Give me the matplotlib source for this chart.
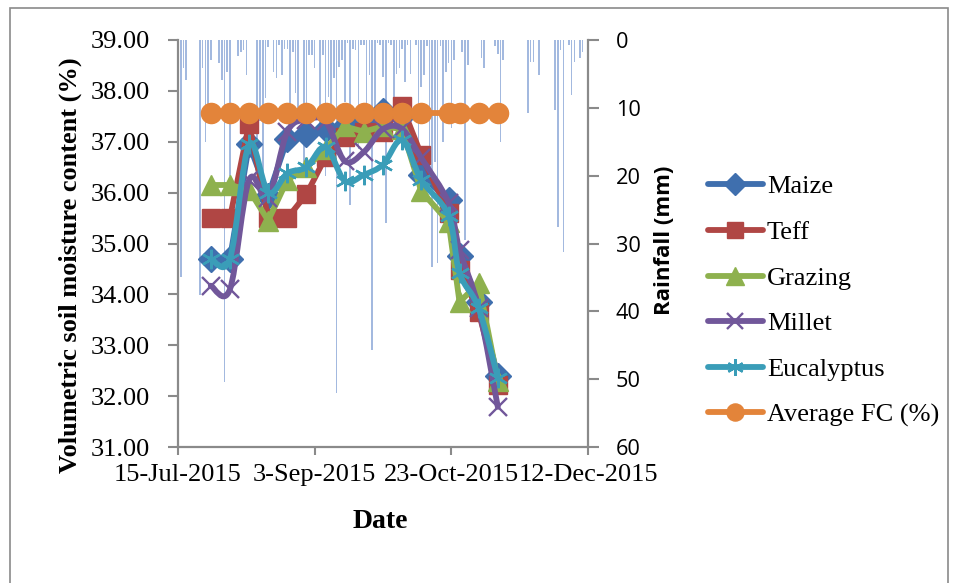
import datetime as dt
import numpy as np
import matplotlib
matplotlib.use("Agg")
import matplotlib.pyplot as plt
from matplotlib.path import Path
from matplotlib.patches import PathPatch, Rectangle
from matplotlib.lines import Line2D
from matplotlib.ticker import FixedLocator, FuncFormatter

# ---- soil moisture sampling dates and readings (%) ----
sample_dates = ["2015-07-27", "2015-08-03", "2015-08-10", "2015-08-17",
                "2015-08-24", "2015-08-31", "2015-09-07", "2015-09-14",
                "2015-09-21", "2015-09-28", "2015-10-05", "2015-10-12",
                "2015-10-22", "2015-10-26", "2015-11-02", "2015-11-09"]
maize = [34.70, 34.70, 36.95, 35.94, 37.05, 37.15, 37.25, 37.30,
         37.40, 37.60, 37.50, 36.35, 35.85, 34.75, 33.85, 32.40]
teff = [35.50, 35.50, 37.35, 35.50, 35.50, 35.97, 36.70, 37.10,
        37.20, 37.20, 37.70, 36.74, 35.60, 34.48, 33.65, 32.22]
grazing = [36.15, 36.15, 36.05, 35.45, 36.25, 36.50, 36.85, 37.30,
           37.20, 37.30, 37.25, 36.03, 35.42, 33.85, 34.22, 32.30]
millet = [34.17, 34.10, 36.25, 35.90, 37.20, 37.43, 37.40, 36.62,
          36.80, 37.25, 37.25, 36.68, 35.80, 34.87, 33.73, 31.79]
eucalyptus = [34.70, 34.70, 36.95, 36.00, 36.38, 36.50, 36.90, 36.23,
              36.35, 36.55, 37.03, 36.25, 35.55, 34.42, 33.73, 32.36]
average_fc = [37.56] * 16

# ---- daily rainfall (mm), days counted from 15-Jul-2015 ----
rain_day = [1, 2, 3, 8, 9, 10, 11, 12, 15, 16, 17, 18, 19, 22, 23, 24, 25,
            29, 30, 31, 32, 33, 35, 36, 37, 38, 39, 40, 41, 42, 43, 44, 46,
            47, 48, 49, 50, 52, 53, 54, 55, 56, 57, 58, 59, 60, 61, 62, 63,
            64, 65, 66, 67, 68, 69, 70, 71, 72, 73, 74, 75, 76, 77, 78, 79,
            80, 81, 82, 83, 84, 85, 87, 88, 89, 90, 91, 92, 93, 94, 95, 96,
            97, 98, 99, 100, 101, 104, 105, 106, 111, 112, 116, 117, 118,
            119, 128, 129, 130, 132, 138, 139, 140, 141, 143, 144, 145, 147,
            148]
rain_mm = [35.0, 4.1, 5.9, 37.6, 4.1, 15.0, 12.0, 2.9, 3.4, 5.9, 50.4, 4.7,
           20.0, 2.3, 1.7, 1.5, 5.2, 16.0, 12.0, 22.0, 8.5, 1.0, 4.7, 5.6,
           0.7, 5.2, 1.4, 1.3, 14.0, 1.7, 7.8, 12.0, 18.0, 10.0, 2.2, 2.2,
           4.1, 14.0, 2.2, 20.0, 8.4, 12.0, 5.6, 52.0, 4.0, 2.9, 9.1, 0.5,
           24.3, 1.4, 1.5, 16.0, 0.7, 0.7, 14.0, 5.2, 45.7, 10.0, 0.5, 0.7,
           5.4, 27.0, 0.5, 0.7, 12.0, 5.0, 4.1, 1.3, 6.2, 0.7, 5.0, 0.7,
           15.0, 7.0, 5.2, 0.9, 16.0, 33.4, 18.0, 32.9, 0.9, 15.0, 4.7, 3.4,
           13.0, 2.9, 1.7, 29.5, 3.7, 2.7, 4.1, 0.9, 2.0, 15.0, 2.9, 10.8,
           3.2, 3.2, 5.2, 10.3, 27.5, 1.5, 31.2, 0.7, 8.1, 3.2, 2.7, 1.7]

date_tick_labels = ["15-Jul-2015", "3-Sep-2015", "23-Oct-2015", "12-Dec-2015"]
moisture_ticks = [31, 32, 33, 34, 35, 36, 37, 38, 39]
rain_ticks = [0, 10, 20, 30, 40, 50, 60]

START = dt.date(2015, 7, 15)


def day_num(d):
    return (d - START).days


x_samples = [day_num(dt.date.fromisoformat(s)) for s in sample_dates]
tick_days = [day_num(dt.datetime.strptime(s, "%d-%b-%Y").date())
             for s in date_tick_labels]

SERIF = "Liberation Serif"
SANS = "Open Sans"
GREY = "#8a8a8a"

W, H = 957, 583
fig = plt.figure(figsize=(W / 100, H / 100), dpi=100)
L, R, T, B = 178, 588, 40, 447
ax = fig.add_axes([L / W, 1 - B / H, (R - L) / W, (B - T) / H])
ax2 = ax.twinx()

# rainfall bars hanging from the top on the secondary axis
ax2.bar(rain_day, rain_mm, width=0.6, color="#a3b9df", edgecolor="none",
        zorder=1)
ax2.set_ylim(60, 0)
ax2.yaxis.set_major_locator(FixedLocator(rain_ticks))
ax.set_zorder(ax2.get_zorder() + 1)
ax.patch.set_visible(False)


def smooth_path(xs, ys):
    pts = np.column_stack([xs, ys]).astype(float)
    n = len(pts)
    verts = [pts[0]]
    codes = [Path.MOVETO]
    for i in range(n - 1):
        p0 = pts[i - 1] if i > 0 else pts[i]
        p1, p2 = pts[i], pts[i + 1]
        p3 = pts[i + 2] if i + 2 < n else pts[i + 1]
        verts += [p1 + (p2 - p0) / 6.0, p2 - (p3 - p1) / 6.0, p2]
        codes += [Path.CURVE4] * 3
    return Path(verts, codes)


LW = 4.2
series = [
    ("Maize", maize, "#3f6fae", dict(marker="D", markersize=13), False),
    ("Teff", teff, "#b04644", dict(marker="s", markersize=13.5), False),
    ("Grazing", grazing, "#8eb14e", dict(marker="^", markersize=15), False),
    ("Millet", millet, "#71579a",
     dict(marker="x", markersize=13, markeredgewidth=1.7), True),
    ("Eucalyptus", eucalyptus, "#3a9db8",
     dict(marker=(6, 2, 0), markersize=14, markeredgewidth=1.7), True),
    ("Average FC (%)", average_fc, "#e3843a",
     dict(marker="o", markersize=14.5), False),
]

handles = []
for k, (name, vals, col, mk, smooth) in enumerate(series):
    z = 3 + k
    if smooth:
        ax.add_patch(PathPatch(smooth_path(x_samples, vals), fill=False,
                               edgecolor=col, lw=LW, capstyle="round",
                               joinstyle="round", zorder=z))
        ax.plot(x_samples, vals, ls="none", color=col, zorder=z + 0.5, **mk)
    else:
        ax.plot(x_samples, vals, color=col, lw=LW, solid_joinstyle="round",
                solid_capstyle="round", zorder=z, **mk)
    key_mk = dict(mk)
    key_mk["markersize"] = mk["markersize"] * 0.85
    handles.append(Line2D([], [], color=col, lw=LW, solid_capstyle="round",
                          **key_mk))

ax.set_xlim(tick_days[0], tick_days[-1])
ax.set_ylim(31, 39)
ax.xaxis.set_major_locator(FixedLocator(tick_days))
ax.set_xticklabels(date_tick_labels)
ax.yaxis.set_major_locator(FixedLocator(moisture_ticks))
ax.yaxis.set_major_formatter(FuncFormatter(lambda v, p: f"{v:.2f}"))

for a in (ax, ax2):
    for s in a.spines.values():
        s.set_color(GREY)
        s.set_linewidth(1.6)
    a.spines["top"].set_visible(False)
ax.spines["right"].set_visible(False)
ax2.spines["left"].set_visible(False)
ax2.spines["bottom"].set_visible(False)

ax.tick_params(axis="y", direction="out", length=7, width=1.5, color=GREY,
               pad=13, labelsize=19)
ax.tick_params(axis="x", direction="out", length=6, width=1.5, color=GREY,
               pad=6, labelsize=19)
ax2.tick_params(axis="y", direction="out", length=8, width=1.5, color=GREY,
                pad=12, labelsize=15.7)
for lab in ax.get_xticklabels() + ax.get_yticklabels():
    lab.set_fontfamily(SERIF)
for lab in ax2.get_yticklabels():
    lab.set_fontfamily(SANS)

fig.text(70 / W, 1 - 265 / H, "Volumetric soil moisture content (%)",
         rotation=90, ha="center", va="center", fontsize=19,
         fontweight="bold", family=SERIF)
fig.text(664 / W, 1 - 240 / H, "Rainfall (mm)", rotation=90, ha="center",
         va="center", fontsize=16, fontweight="bold", family=SANS)
fig.text(380 / W, 1 - 522 / H, "Date", ha="center", va="center",
         fontsize=20, fontweight="bold", family=SERIF)

fig.legend(handles, [s[0] for s in series], loc="upper left",
           bbox_to_anchor=(708 / W, 1 - 175 / H), frameon=False,
           prop={"family": SERIF, "size": 19}, handlelength=2.08,
           handletextpad=0.15, labelspacing=0.84, borderpad=0,
           borderaxespad=0)

fig.add_artist(Rectangle((10 / W, -0.05), (948 - 10) / W, 1.05 - 8 / H,
                         transform=fig.transFigure, fill=False,
                         edgecolor=GREY, lw=1.2))

fig.savefig("out.png", dpi=100)
